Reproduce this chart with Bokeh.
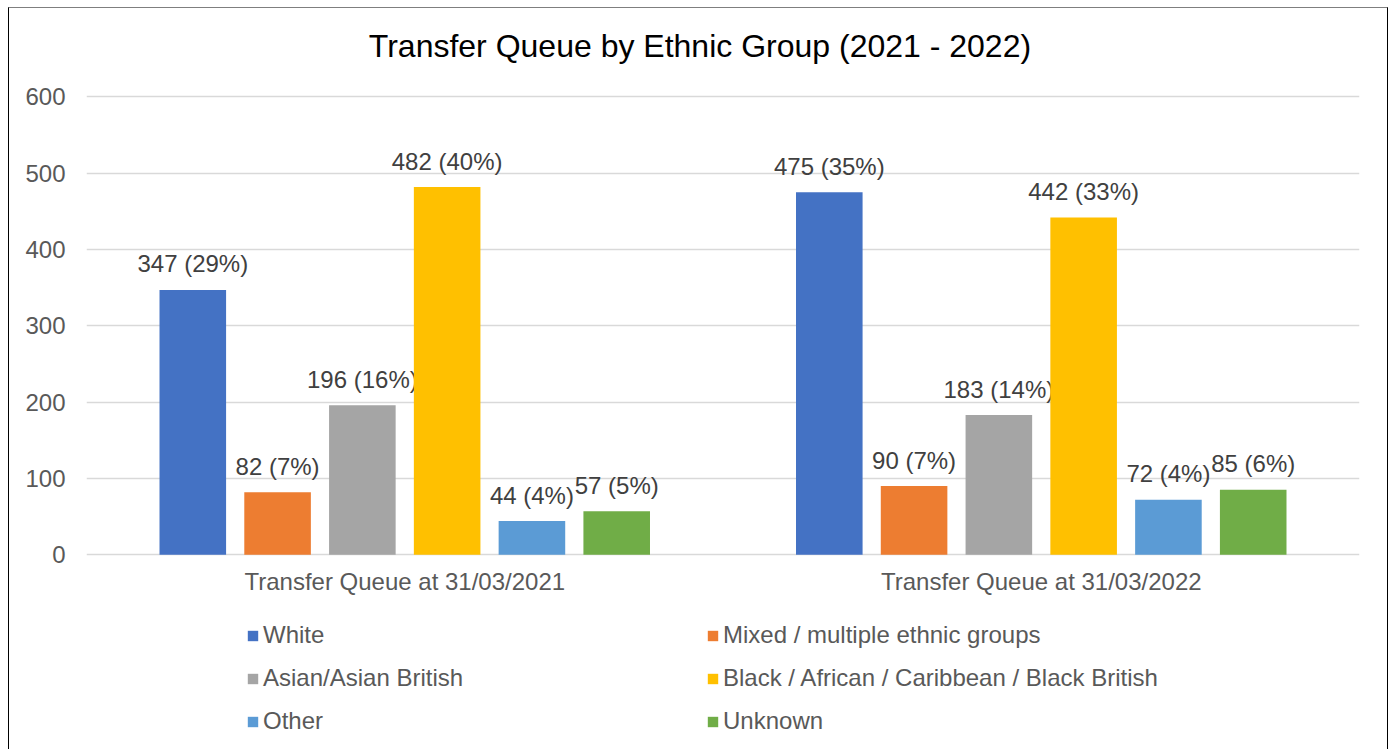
from bokeh.plotting import figure
from bokeh.models import (FactorRange, Range1d, Legend, LegendItem,
                          ColumnDataSource, FixedTicker)
from bokeh.transform import dodge
from bokeh.core.properties import value
from bokeh.embed import file_html
from bokeh.resources import INLINE

# ---- data ----
periods = ["Transfer Queue at 31/03/2021", "Transfer Queue at 31/03/2022"]
groups = ["White", "Mixed / multiple ethnic groups", "Asian/Asian British",
          "Black / African / Caribbean / Black British", "Other", "Unknown"]
counts_2021 = [347, 82, 196, 482, 44, 57]
counts_2022 = [475, 90, 183, 442, 72, 85]
pct_2021 = [29, 7, 16, 40, 4, 5]
pct_2022 = [35, 7, 14, 33, 4, 6]
colors = ["#4472C4", "#ED7D31", "#A5A5A5", "#FFC000", "#5B9BD5", "#70AD47"]
y_ticks = [0, 100, 200, 300, 400, 500, 600]
title_text = "Transfer Queue by Ethnic Group (2021 - 2022)"

FONT = "Liberation Sans"

# The frame covers the whole chart area (title, bars, category labels and
# legend) so nothing drawn inside it is clipped; only 0..600 are ticked.
p = figure(x_range=FactorRange(*periods, range_padding=0),
           y_range=Range1d(-256.7, 716.0),
           width=1380, height=742, margin=(7, 0, 0, 8),
           output_backend="svg", toolbar_location=None, title=None,
           min_border_left=77, min_border_right=30,
           min_border_top=0, min_border_bottom=0)
p.styles = {"border-left": "1px solid #000000",
            "border-top": "1px solid #7f7f7f",
            "border-right": "1px solid #000000"}
p.outline_line_color = None
p.background_fill_color = "white"
p.border_fill_color = "white"

# grid
p.xgrid.grid_line_color = None
p.ygrid.grid_line_color = "#D9D9D9"
p.ygrid.grid_line_width = 1.3
p.yaxis.ticker = FixedTicker(ticks=y_ticks)

# axes
p.xaxis.visible = False
p.yaxis.axis_line_color = None
p.yaxis.major_tick_line_color = None
p.yaxis.minor_tick_line_color = None
p.yaxis.major_tick_out = 0
p.yaxis.major_tick_in = 0
p.yaxis.major_label_text_font = FONT
p.yaxis.major_label_text_font_size = "24px"
p.yaxis.major_label_text_color = "#595959"
p.yaxis.major_label_standoff = 21

# title (centred on the whole chart, slightly left of the plot centre)
p.text(x=dodge("x", 0.4638, range=p.x_range), y="y",
       source=ColumnDataSource(dict(x=[periods[0]], y=[y_ticks[-1]], t=[title_text])),
       text="t", text_align="center", text_baseline="alphabetic", y_offset=-51,
       text_font=value(FONT), text_font_size="32px", text_color="#000000")

# category labels under the bars
p.text(x=periods, y=[0] * len(periods), text=periods,
       text_align="center", text_baseline="alphabetic", y_offset=27,
       text_font=value(FONT), text_font_size="24px", text_color="#595959")

bar_w = 0.1046
step = 0.1332

renderers = []
for i, g in enumerate(groups):
    vals = [counts_2021[i], counts_2022[i]]
    pcts = [pct_2021[i], pct_2022[i]]
    src = ColumnDataSource(dict(
        x=periods, top=vals,
        lab=[f"{v} ({pc}%)" for v, pc in zip(vals, pcts)]))
    off = (i - 2.5) * step
    r = p.vbar(x=dodge("x", off, range=p.x_range), top="top", bottom=0,
               width=bar_w, source=src, fill_color=colors[i], line_color=None)
    p.text(x=dodge("x", off, range=p.x_range), y="top", text="lab", source=src,
           text_align="center", text_baseline="alphabetic", y_offset=-26,
           text_font=value(FONT), text_font_size="24px", text_color="#404040")
    renderers.append(r)

# legend columns are filled top-to-bottom; order so rows read left-to-right
legend_order = [0, 2, 4, 1, 3, 5]
items = [LegendItem(label=groups[k], renderers=[renderers[k]]) for k in legend_order]

legend = Legend(items=items, ncols=2, location=(160, 15),
                glyph_width=13, glyph_height=13, label_standoff=4,
                label_width=428, label_height=25, spacing=15,
                padding=0, margin=0, border_line_color=None,
                background_fill_alpha=0,
                label_text_font=FONT, label_text_font_size="24px",
                label_text_color="#595959")
p.add_layout(legend, "center")

open("out.html", "w").write(file_html(p, INLINE))
